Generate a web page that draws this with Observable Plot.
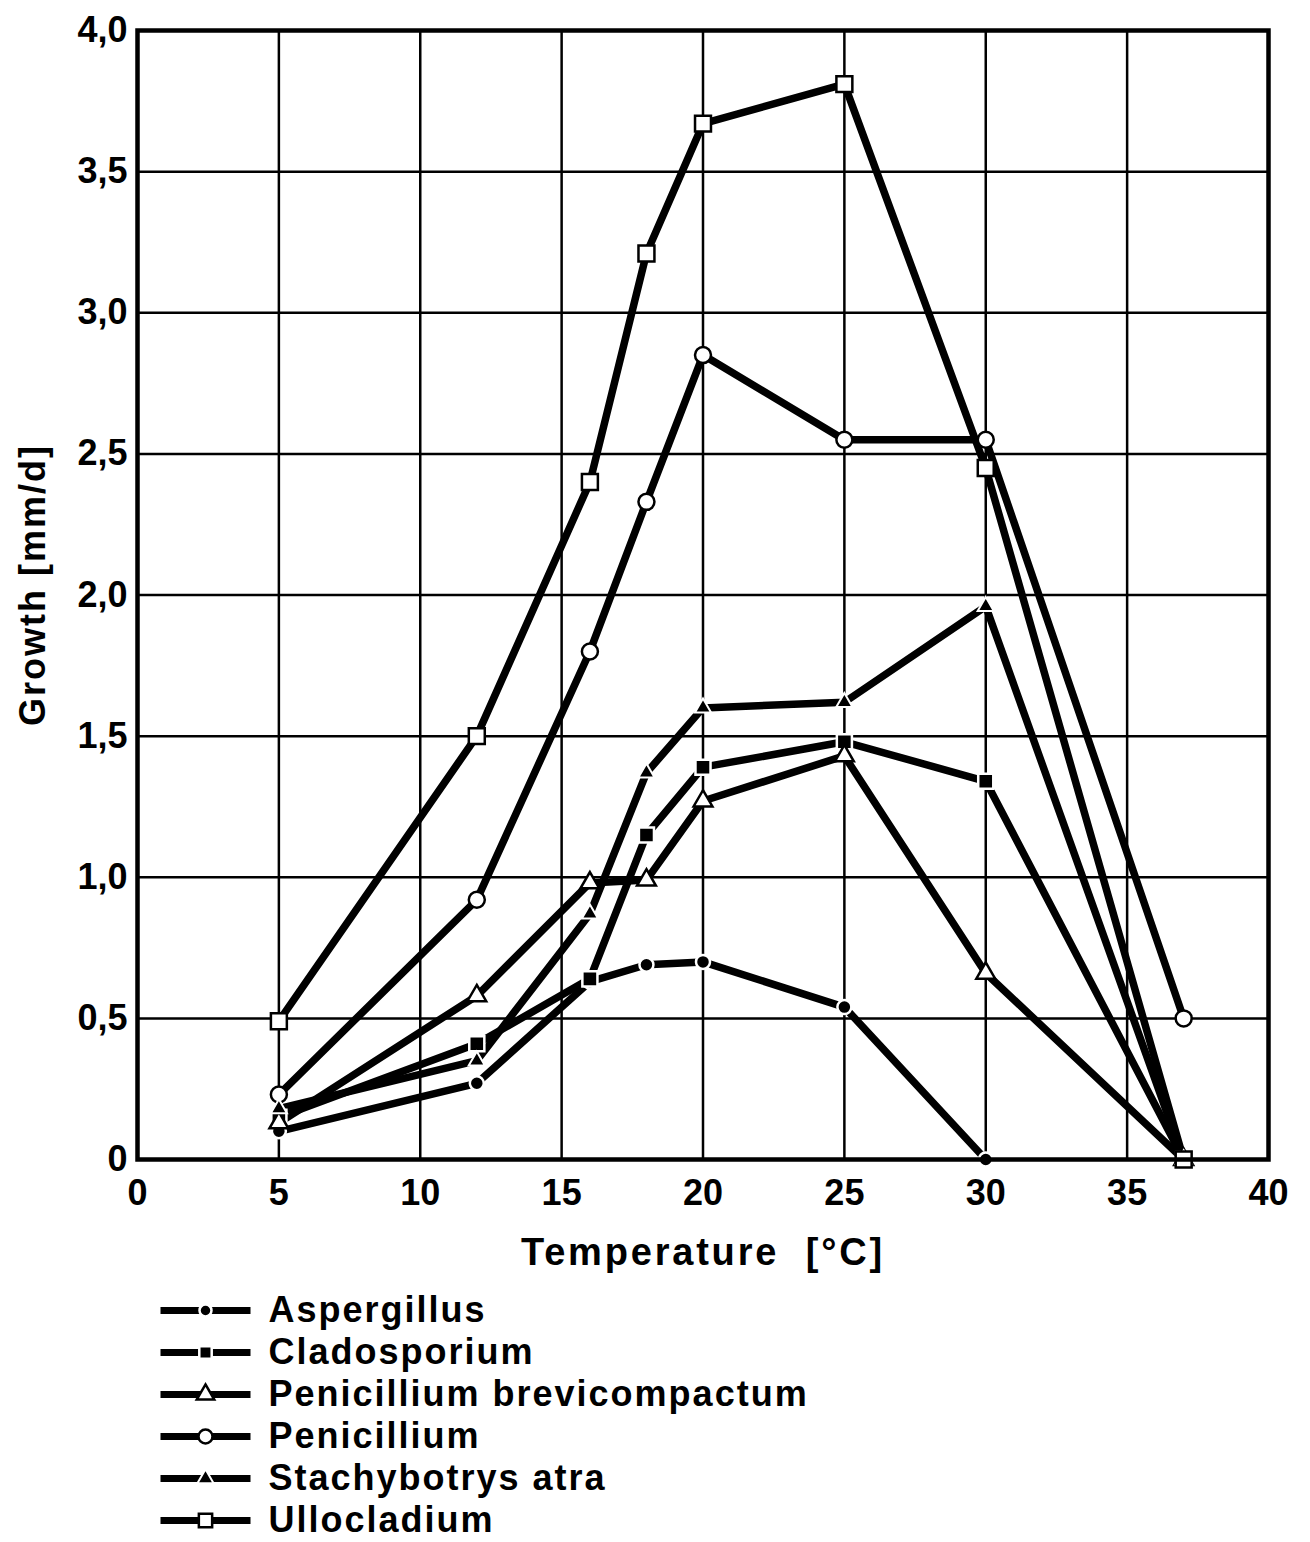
<!DOCTYPE html>
<html><head><meta charset="utf-8">
<script src="https://cdn.jsdelivr.net/npm/d3@7"></script>
<script src="https://cdn.jsdelivr.net/npm/@observablehq/plot@0.6"></script>
<style>
body{margin:0;background:#fff;}
svg{display:block}
</style>
</head><body><div id="chart"></div><div id="legend"></div>
<script>
const temperatures = [5, 12, 16, 18, 20, 25, 30, 37];
const seriesNames = ["Aspergillus", "Cladosporium", "Penicillium brevicompactum", "Penicillium", "Stachybotrys atra", "Ullocladium"];
const aspergillus   = [0.10, 0.27, 0.63, 0.69, 0.70, 0.54, 0.00, null];
const cladosporium  = [0.15, 0.41, 0.64, 1.15, 1.39, 1.48, 1.34, 0.00];
const pBrevicompactum = [0.13, 0.58, 0.98, 0.99, 1.27, 1.43, 0.66, 0.00];
const penicillium   = [0.23, 0.92, 1.80, 2.33, 2.85, 2.55, 2.55, 0.50];
const stachybotrys  = [0.18, 0.35, 0.87, 1.37, 1.60, 1.62, 1.96, 0.00];
const ullocladium   = [0.49, 1.50, 2.40, 3.21, 3.67, 3.81, 2.45, 0.00];
const xTicks = [0, 5, 10, 15, 20, 25, 30, 35, 40];
const yTicks = [0, 0.5, 1, 1.5, 2, 2.5, 3, 3.5, 4];
const xTitle = "Temperature\u00a0\u00a0[°C]";
const yTitle = "Growth [mm/d]";

const values = [aspergillus, cladosporium, pBrevicompactum, penicillium, stachybotrys, ullocladium];
const styles = {
  "Aspergillus": {symbol: "circle", r: 7, fill: "black", stroke: "white", sw: 2.5, lr: 6},
  "Cladosporium": {symbol: "square", r: 8.5, fill: "black", stroke: "white", sw: 2.5, lr: 7},
  "Penicillium brevicompactum": {symbol: "triangle", r: 7, fill: "white", stroke: "black", sw: 2.5, lr: 6.5},
  "Penicillium": {symbol: "circle", r: 8, fill: "white", stroke: "black", sw: 2.5, lr: 7},
  "Stachybotrys atra": {symbol: "triangle", r: 6, fill: "black", stroke: "white", sw: 2, lr: 6},
  "Ullocladium": {symbol: "square", r: 9, fill: "white", stroke: "black", sw: 2.5, lr: 7.5}
};

const rows = [];
seriesNames.forEach((s, k) => {
  temperatures.forEach((t, i) => {
    const v = values[k][i];
    if (v != null) rows.push({series: s, t, g: v});
  });
});

const font = "'Liberation Sans', Arial, sans-serif";

const dotMarks = seriesNames.map(s => {
  const st = styles[s];
  return Plot.dot(rows.filter(d => d.series === s), {
    x: "t", y: "g", symbol: () => st.symbol, r: st.r,
    fill: st.fill, stroke: st.stroke, strokeWidth: st.sw
  });
});

const chart = Plot.plot({
  width: 1310,
  height: 1290,
  marginLeft: 137,
  marginRight: 42,
  marginTop: 30,
  marginBottom: 131,
  style: {fontFamily: font, fontWeight: "bold", fontSize: "36px", background: "white", color: "black"},
  x: {domain: [0, 40], axis: null},
  y: {domain: [0, 4], axis: null},
  symbol: {type: "identity"},
  marks: [
    Plot.gridX(xTicks, {stroke: "black", strokeOpacity: 1, strokeWidth: 2.5}),
    Plot.gridY(yTicks, {stroke: "black", strokeOpacity: 1, strokeWidth: 2.5}),
    Plot.line(rows, {x: "t", y: "g", z: "series", stroke: "black", strokeWidth: 7.5, strokeLinejoin: "miter", strokeLinecap: "butt"}),
    ...dotMarks,
    Plot.frame({stroke: "black", strokeWidth: 4.5}),
    Plot.axisX(xTicks, {tickSize: 0, tickPadding: 20, fontSize: 36, fontWeight: "bold", label: null,
      tickFormat: d => String(d)}),
    Plot.axisY(yTicks, {tickSize: 0, tickPadding: 10, fontSize: 36, fontWeight: "bold", label: null,
      tickFormat: d => d === 0 ? "0" : d.toFixed(1).replace(".", ",")}),
    Plot.text([xTitle], {text: d => d, frameAnchor: "bottom", dy: 93, fontSize: 38, fontWeight: "bold",
      textAnchor: "middle", lineAnchor: "middle", dx: 0}),
    Plot.text([yTitle], {text: d => d, frameAnchor: "left", dx: -104, dy: -10, rotate: -90, fontSize: 36, fontWeight: "bold",
      textAnchor: "middle", lineAnchor: "middle"})
  ]
});
d3.select(chart).selectAll("text").each(function() {
  if (this.textContent === xTitle) this.setAttribute("letter-spacing", "2.8px");
  if (this.textContent === yTitle) this.setAttribute("letter-spacing", "2px");
});
document.getElementById("chart").append(chart);

const legendDots = seriesNames.map(s => {
  const st = styles[s];
  return Plot.dot([s], {x: () => 0.5, y: d => d, symbol: () => st.symbol, r: st.lr,
    fill: st.fill, stroke: st.stroke, strokeWidth: st.sw});
});

const legend = Plot.plot({
  width: 1310,
  height: 252,
  margin: 0,
  style: {fontFamily: font, fontWeight: "bold", fontSize: "36px", background: "white", color: "black", letterSpacing: "2px"},
  x: {domain: [0, 1], range: [160, 250], axis: null},
  y: {type: "point", domain: seriesNames, range: [20, 230], padding: 0, axis: null},
  symbol: {type: "identity"},
  marks: [
    Plot.link(seriesNames, {x1: () => 0, x2: () => 1, y1: d => d, y2: d => d, stroke: "black", strokeWidth: 7}),
    ...legendDots,
    Plot.text(seriesNames, {x: () => 1, y: d => d, text: d => d, dx: 18, textAnchor: "start",
      fontSize: 36, fontWeight: "bold", lineAnchor: "middle"})
  ]
});
document.getElementById("legend").append(legend);
</script>
</body></html>
